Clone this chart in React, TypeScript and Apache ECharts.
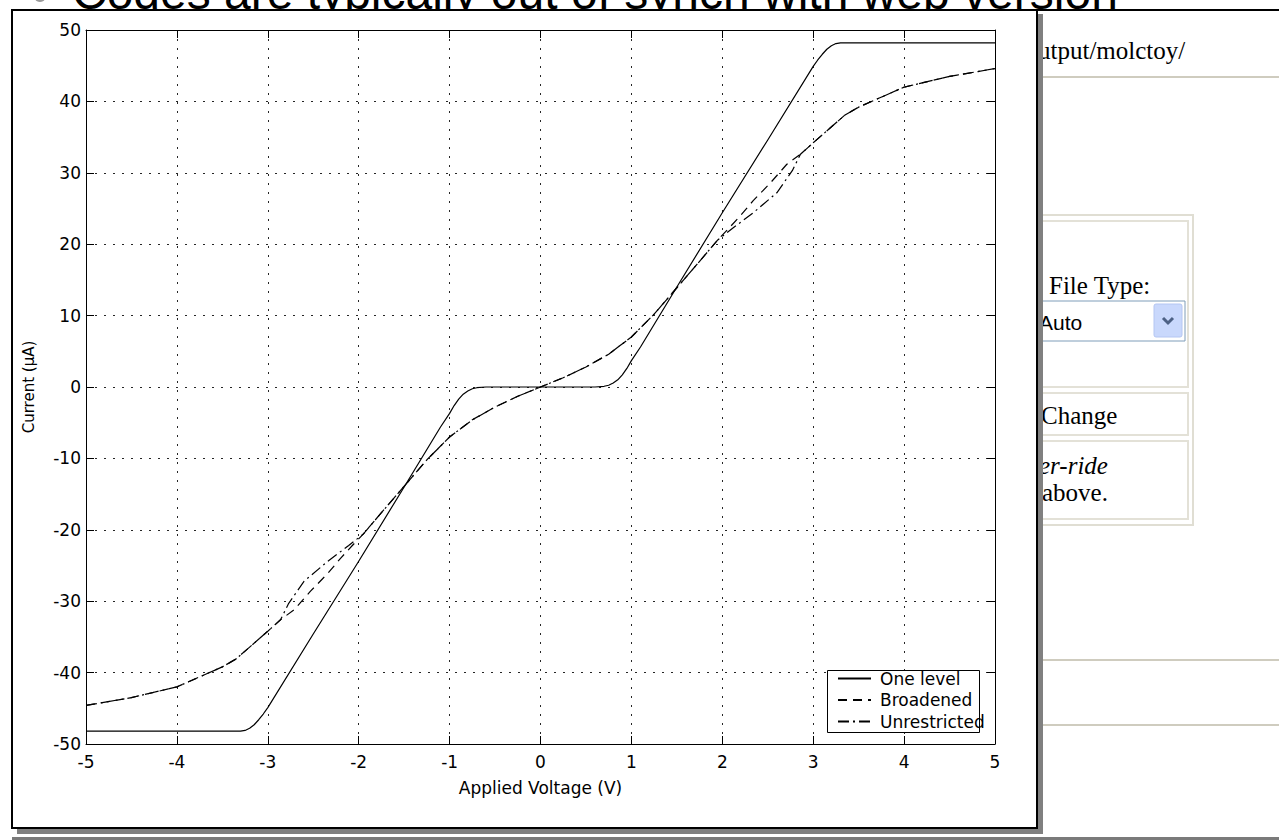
import React, { useEffect, useRef } from 'react';
import * as echarts from 'echarts';

// ---------- data ----------
const seriesNames = ['One level', 'Broadened', 'Unrestricted'];

const oneLevelV = [-5, -3.3, -3.25, -3.2, -3.15, -3.1, -3.05, -3.0, -2.5, -2.0, -1.5, -1.2, -1.1, -1.0, -0.95, -0.9, -0.85, -0.8, -0.75, -0.7, -0.6, 0, 0.6, 0.7, 0.75, 0.8, 0.85, 0.9, 0.95, 1.0, 1.1, 1.2, 1.5, 2.0, 2.5, 3.0, 3.05, 3.1, 3.15, 3.2, 3.25, 3.3, 5];
const oneLevelI = [-48.2, -48.2, -48.1, -47.8, -47.3, -46.6, -45.8, -44.9, -34.6, -24.4, -14.0, -7.7, -5.6, -3.7, -2.6, -1.7, -1.0, -0.55, -0.25, -0.1, 0, 0, 0, 0.1, 0.25, 0.55, 1.0, 1.7, 2.6, 3.7, 5.6, 7.7, 14.0, 24.4, 34.6, 44.9, 45.8, 46.6, 47.3, 47.8, 48.1, 48.2, 48.2];

const broadV = [-5, -4.5, -4, -3.5, -3.35, -3.0, -2.86, -2.71, -2.53, -2.34, -2.2, -2.07, -1.95, -1.75, -1.5, -1.25, -1.0, -0.75, -0.5, -0.25, 0, 0.25, 0.5, 0.75, 1.0, 1.25, 1.5, 1.75, 1.95, 2.07, 2.2, 2.34, 2.53, 2.71, 2.86, 3.0, 3.35, 3.5, 4, 4.5, 5];
const broadI = [-44.6, -43.5, -42.0, -39.2, -38.1, -34.2, -32.6, -31.2, -28.6, -26.1, -24.0, -22.2, -20.6, -17.6, -13.9, -10.2, -7.0, -4.6, -2.8, -1.3, 0, 1.3, 2.8, 4.6, 7.0, 10.2, 13.9, 17.6, 20.6, 22.2, 24.0, 26.1, 28.6, 31.2, 32.6, 34.2, 38.1, 39.2, 42.0, 43.5, 44.6];

const unresV = [-5, -4.5, -4, -3.5, -3.35, -3.0, -2.86, -2.77, -2.6, -2.34, -2.11, -1.95, -1.75, -1.5, -1.25, -1.0, -0.75, -0.5, -0.25, 0, 0.25, 0.5, 0.75, 1.0, 1.25, 1.5, 1.75, 1.95, 2.11, 2.34, 2.6, 2.77, 2.86, 3.0, 3.35, 3.5, 4, 4.5, 5];
const unresI = [-44.6, -43.5, -42.0, -39.2, -38.1, -34.2, -32.6, -30.3, -27.2, -24.4, -22.2, -20.6, -17.6, -13.9, -10.2, -7.0, -4.6, -2.8, -1.3, 0, 1.3, 2.8, 4.6, 7.0, 10.2, 13.9, 17.6, 20.6, 22.2, 24.4, 27.2, 30.3, 32.6, 34.2, 38.1, 39.2, 42.0, 43.5, 44.6];

const xTicks = [-5, -4, -3, -2, -1, 0, 1, 2, 3, 4, 5];
const xTickLabels = ['-5', '-4', '-3', '-2', '-1', '0', '1', '2', '3', '4', '5'];
const yTicks = [-50, -40, -30, -20, -10, 0, 10, 20, 30, 40, 50];
const yTickLabels = ['-50', '-40', '-30', '-20', '-10', '0', '10', '20', '30', '40', '50'];

const titleText = 'Codes are typically out of synch with web version';
const xAxisName = 'Applied Voltage (V)';
const yAxisName = 'Current (μA)';
const pageTexts = ['utput/molctoy/', 'File Type:', 'Auto', 'Change', 'er-ride', 'above.'];

// ---------- styles ----------
const MAT_FONT = "'DejaVu Sans', sans-serif";
const SERIF = "'Liberation Serif', 'DejaVu Serif', serif";
const PAGE_LINE = '#cfccbf';

const pairs = (v: number[], c: number[]) => v.map((x, i) => [x, c[i]]);

const lbl = (ticks: number[], labels: string[]) => (v: number) => {
  const i = ticks.indexOf(Math.round(v));
  return i >= 0 ? labels[i] : '';
};

function buildGraphic() {
  const els: any[] = [];
  // slide title (partially hidden by figure)
  els.push({ type: 'circle', shape: { cx: 40, cy: -4, r: 6 }, style: { fill: '#999' }, z: -30 });
  els.push({
    type: 'text', x: 72, y: -8, z: -30,
    style: { text: titleText, font: "48px 'Liberation Sans', Arial, sans-serif", fill: '#000', verticalAlign: 'middle', align: 'left' },
  });
  // web page screenshot
  els.push({ type: 'rect', shape: { x: 1000, y: 10, width: 279, height: 830 }, style: { fill: '#fff' }, z: -25 });
  els.push({ type: 'rect', shape: { x: 1000, y: 9, width: 279, height: 2 }, style: { fill: '#000' }, z: -24 });
  els.push({ type: 'text', x: 1038, y: 50, z: -24, style: { text: pageTexts[0], font: `25px ${SERIF}`, fill: '#000', verticalAlign: 'middle' } });
  els.push({ type: 'rect', shape: { x: 1000, y: 76, width: 279, height: 2 }, style: { fill: PAGE_LINE }, z: -24 });
  // form box
  els.push({ type: 'rect', shape: { x: 1000, y: 215, width: 193, height: 310 }, style: { fill: 'none', stroke: '#e0ded3', lineWidth: 2 }, z: -24 });
  els.push({ type: 'rect', shape: { x: 1000, y: 221, width: 188, height: 166 }, style: { fill: 'none', stroke: '#e3e1d7', lineWidth: 2 }, z: -24 });
  els.push({ type: 'rect', shape: { x: 1000, y: 393, width: 188, height: 42 }, style: { fill: 'none', stroke: '#e3e1d7', lineWidth: 2 }, z: -24 });
  els.push({ type: 'rect', shape: { x: 1000, y: 441, width: 188, height: 78 }, style: { fill: 'none', stroke: '#e3e1d7', lineWidth: 2 }, z: -24 });
  els.push({ type: 'text', x: 1049, y: 285, z: -24, style: { text: pageTexts[1], font: `25px ${SERIF}`, fill: '#000', verticalAlign: 'middle' } });
  els.push({ type: 'rect', shape: { x: 1000, y: 301, width: 185, height: 40 }, style: { fill: '#fff', stroke: '#7f9db9', lineWidth: 1 }, z: -24 });
  els.push({ type: 'rect', shape: { x: 1154, y: 304, width: 28, height: 33, r: 2 }, style: { fill: '#c9d8fc', stroke: '#b4c6f2', lineWidth: 1 }, z: -23 });
  els.push({ type: 'polyline', shape: { points: [[1163, 318], [1168, 323], [1173, 318]] }, style: { stroke: '#4d6185', lineWidth: 3, fill: 'none' }, z: -22 });
  els.push({ type: 'text', x: 1039, y: 322, z: -23, style: { text: pageTexts[2], font: "21px 'Liberation Sans', sans-serif", fill: '#000', verticalAlign: 'middle' } });
  els.push({ type: 'text', x: 1041, y: 415, z: -24, style: { text: pageTexts[3], font: `25px ${SERIF}`, fill: '#000', verticalAlign: 'middle' } });
  els.push({ type: 'text', x: 1039, y: 465, z: -24, style: { text: pageTexts[4], font: `italic 25px ${SERIF}`, fill: '#000', verticalAlign: 'middle' } });
  els.push({ type: 'text', x: 1042, y: 492, z: -24, style: { text: pageTexts[5], font: `25px ${SERIF}`, fill: '#000', verticalAlign: 'middle' } });
  els.push({ type: 'rect', shape: { x: 1000, y: 659, width: 279, height: 2 }, style: { fill: PAGE_LINE }, z: -24 });
  els.push({ type: 'rect', shape: { x: 1000, y: 724, width: 279, height: 2 }, style: { fill: PAGE_LINE }, z: -24 });
  els.push({ type: 'rect', shape: { x: 12, y: 837, width: 1267, height: 3 }, style: { fill: '#7a7a7a' }, z: -24 });
  // figure window shadow and frame
  els.push({ type: 'rect', shape: { x: 17, y: 14, width: 1026, height: 820 }, style: { fill: '#808080' }, z: -15 });
  els.push({ type: 'rect', shape: { x: 12, y: 10, width: 1025, height: 818 }, style: { fill: '#fff', stroke: '#000', lineWidth: 2 }, z: -10 });
  // legend box
  els.push({ type: 'rect', shape: { x: 827.5, y: 670.5, width: 152, height: 62 }, style: { fill: '#fff', stroke: '#000', lineWidth: 1 }, z: 3 });
  return els;
}

const axisLineStyle = { color: '#000', width: 1 };
const gridLine = { show: true, lineStyle: { color: '#000', width: 1, type: [2, 7] as any, opacity: 0.85 } };

const option: any = {
  animation: false,
  backgroundColor: '#fff',
  graphic: { elements: buildGraphic() },
  grid: { left: 86, top: 30, width: 909, height: 714, show: false },
  legend: {
    orient: 'vertical', left: 837, top: 670, padding: 0,
    itemWidth: 33, itemHeight: 14, itemGap: 4.5,
    itemStyle: { color: 'transparent', borderWidth: 0, opacity: 0 },
    textStyle: { fontFamily: MAT_FONT, fontSize: 17, color: '#000', padding: [0, 0, 0, 4] },
    data: seriesNames, z: 5,
  },
  xAxis: [
    {
      type: 'value', min: -5, max: 5, interval: 1, position: 'bottom',
      axisLine: { show: true, onZero: false, lineStyle: axisLineStyle },
      axisTick: { show: true, inside: true, length: 8, lineStyle: axisLineStyle },
      axisLabel: { margin: 9, fontFamily: MAT_FONT, fontSize: 17, color: '#000', formatter: lbl(xTicks, xTickLabels) },
      splitLine: gridLine,
      name: xAxisName, nameLocation: 'middle', nameGap: 35,
      nameTextStyle: { fontFamily: MAT_FONT, fontSize: 17, color: '#000' },
    },
    {
      type: 'value', min: -5, max: 5, interval: 1, position: 'top',
      axisLine: { show: true, onZero: false, lineStyle: axisLineStyle },
      axisTick: { show: true, inside: true, length: 8, lineStyle: axisLineStyle },
      axisLabel: { show: false }, splitLine: { show: false },
    },
  ],
  yAxis: [
    {
      type: 'value', min: -50, max: 50, interval: 10, position: 'left',
      axisLine: { show: true, onZero: false, lineStyle: axisLineStyle },
      axisTick: { show: true, inside: true, length: 8, lineStyle: axisLineStyle },
      axisLabel: { margin: 5, fontFamily: MAT_FONT, fontSize: 17, color: '#000', formatter: lbl(yTicks, yTickLabels) },
      splitLine: gridLine,
      name: yAxisName, nameLocation: 'middle', nameGap: 50,
      nameTextStyle: { fontFamily: MAT_FONT, fontSize: 15, color: '#000' },
    },
    {
      type: 'value', min: -50, max: 50, interval: 10, position: 'right',
      axisLine: { show: true, onZero: false, lineStyle: axisLineStyle },
      axisTick: { show: true, inside: true, length: 8, lineStyle: axisLineStyle },
      axisLabel: { show: false }, splitLine: { show: false },
    },
  ],
  series: [
    {
      name: seriesNames[0], type: 'line', data: pairs(oneLevelV, oneLevelI), symbol: 'none',
      lineStyle: { color: '#000', width: 1.2, type: 'solid' }, itemStyle: { color: '#000' },
    },
    {
      name: seriesNames[1], type: 'line', data: pairs(broadV, broadI), symbol: 'none',
      lineStyle: { color: '#000', width: 1.2, type: [9, 6] }, itemStyle: { color: '#000' },
    },
    {
      name: seriesNames[2], type: 'line', data: pairs(unresV, unresI), symbol: 'none',
      lineStyle: { color: '#000', width: 1.2, type: [11, 4, 2, 4] }, itemStyle: { color: '#000' },
    },
  ],
};

export default function App() {
  const ref = useRef<HTMLDivElement>(null);
  useEffect(() => {
    const chart = echarts.init(ref.current!, null, { renderer: 'svg', width: 1279, height: 840 });
    chart.setOption(option);
    return () => chart.dispose();
  }, []);
  return <div ref={ref} style={{ position: 'fixed', left: 0, top: 0, width: 1279, height: 840 }} />;
}
